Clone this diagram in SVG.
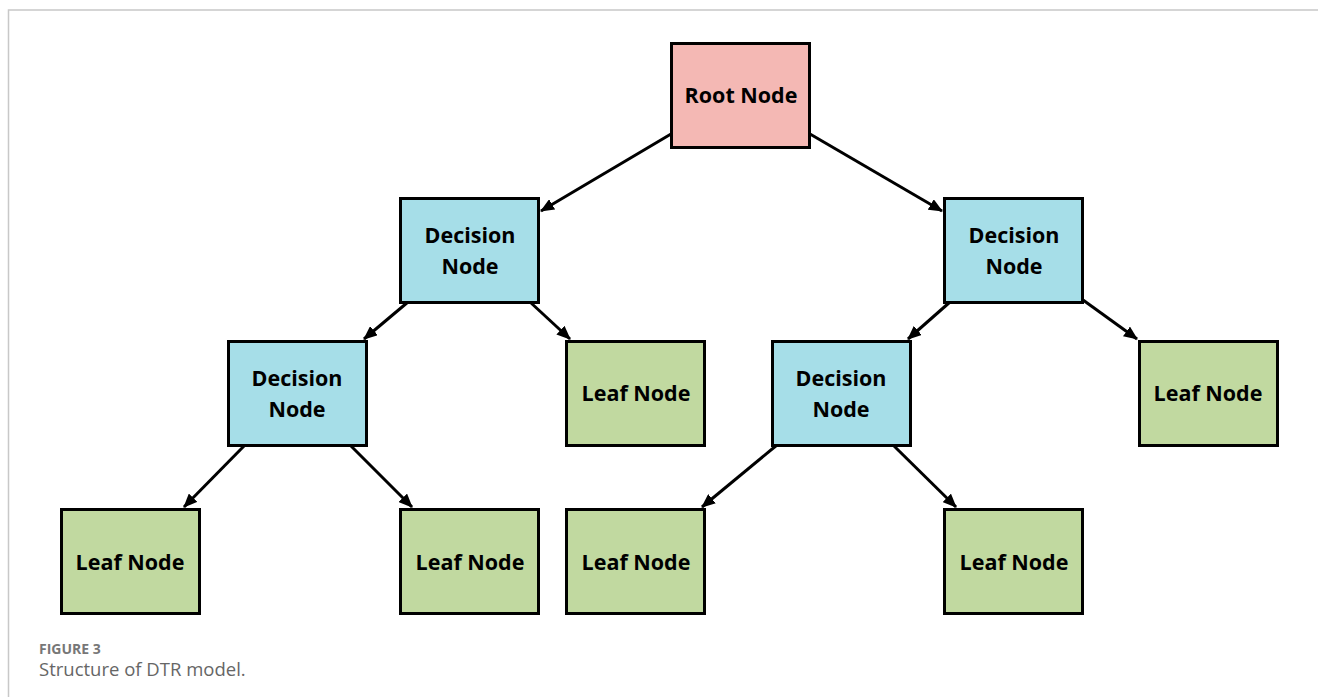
<svg xmlns="http://www.w3.org/2000/svg" width="1318" height="697" viewBox="0 0 1318 697">
<defs>
<marker id="ah" viewBox="0 0 14 12" refX="13" refY="6" markerWidth="14" markerHeight="12" markerUnits="userSpaceOnUse" orient="auto">
<path d="M0,0 L14,6 L0,12 Z" fill="#000"/>
</marker>
<style>
.n rect{stroke:#000;stroke-width:3}
.root rect{fill:#F4B8B4}
.dec rect{fill:#A6DEE8}
.leaf rect{fill:#C1D9A0}
.n text{font-family:"Open Sans","Liberation Sans",sans-serif;font-weight:bold;font-size:21.5px;fill:#000;text-anchor:middle}
.c line{stroke:#000;stroke-width:3;marker-end:url(#ah)}
</style>
</defs>
<rect width="1318" height="697" fill="#fff"/>
<path d="M8.5,697 V10 H1318" fill="none" stroke="#c8c8c8" stroke-width="1.5"/>
<g class="c" id="connectors">
<line x1="671" y1="134" x2="541" y2="211"/>
<line x1="810" y1="134" x2="942" y2="211"/>
<line x1="408" y1="302" x2="364" y2="339"/>
<line x1="530" y1="302" x2="570" y2="339"/>
<line x1="950" y1="302" x2="908" y2="339"/>
<line x1="1083" y1="300" x2="1137" y2="339"/>
<line x1="245" y1="445" x2="184" y2="507"/>
<line x1="350" y1="445" x2="412" y2="507"/>
<line x1="777" y1="445" x2="702" y2="507"/>
<line x1="893" y1="445" x2="956" y2="507"/>
</g>
<g class="n root" id="root"><rect x="671.5" y="43.5" width="138" height="104"/><text x="741" y="103">Root Node</text></g>
<g class="n dec" id="dec1"><rect x="400.5" y="198.5" width="138" height="104"/><text x="470" y="243">Decision</text><text x="470" y="274">Node</text></g>
<g class="n dec" id="dec2"><rect x="944.5" y="198.5" width="138" height="104"/><text x="1014" y="243">Decision</text><text x="1014" y="274">Node</text></g>
<g class="n dec" id="dec3"><rect x="228.5" y="341.5" width="138" height="104"/><text x="297" y="386">Decision</text><text x="297" y="417">Node</text></g>
<g class="n leaf" id="leaf1"><rect x="566.5" y="341.5" width="138" height="104"/><text x="636" y="401">Leaf Node</text></g>
<g class="n dec" id="dec4"><rect x="772.5" y="341.5" width="138" height="104"/><text x="841" y="386">Decision</text><text x="841" y="417">Node</text></g>
<g class="n leaf" id="leaf2"><rect x="1139.5" y="341.5" width="138" height="104"/><text x="1208" y="401">Leaf Node</text></g>
<g class="n leaf" id="leaf3"><rect x="61.5" y="509.5" width="138" height="104"/><text x="130" y="570">Leaf Node</text></g>
<g class="n leaf" id="leaf4"><rect x="400.5" y="509.5" width="138" height="104"/><text x="470" y="570">Leaf Node</text></g>
<g class="n leaf" id="leaf5"><rect x="566.5" y="509.5" width="138" height="104"/><text x="636" y="570">Leaf Node</text></g>
<g class="n leaf" id="leaf6"><rect x="944.5" y="509.5" width="138" height="104"/><text x="1014" y="570">Leaf Node</text></g>
<text x="39" y="654" font-family="'Open Sans','Liberation Sans',sans-serif" font-size="14" font-weight="bold" fill="#777">FIGURE 3</text>
<text x="39" y="676" font-family="'Open Sans','Liberation Sans',sans-serif" font-size="18.5" fill="#666">Structure of DTR model.</text>
</svg>
